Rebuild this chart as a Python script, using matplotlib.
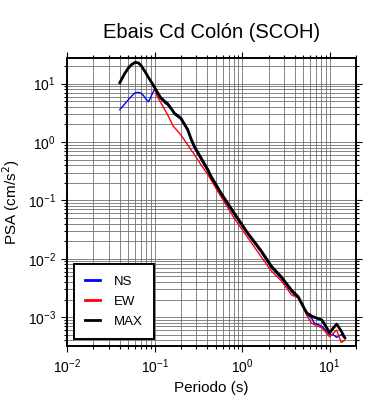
import matplotlib
matplotlib.use("Agg")
import matplotlib.pyplot as plt
from matplotlib.ticker import LogLocator, NullFormatter

plt.rcParams['font.family'] = ['Liberation Sans', 'DejaVu Sans']

# Periodos (s)
periodo = [0.04, 0.045, 0.05, 0.055, 0.06, 0.065, 0.07, 0.075, 0.08, 0.085,
           0.09, 0.095, 0.1, 0.107, 0.117, 0.134, 0.14, 0.16, 0.167, 0.199,
           0.238, 0.26, 0.283, 0.338, 0.404, 0.44, 0.574, 0.815, 1.16, 1.65,
           2.15, 2.8, 3.66, 4.37, 5.2, 5.5, 6.2, 6.6, 7.3, 8.1,
           9.0, 10.0, 11.0, 12.0, 13.5, 14.9]

# PSA (cm/s2) por componente
psa_ns = [3.6, 4.4, 5.3, 6.2, 7.0, 7.1, 6.9, 6.2, 5.4, 4.9,
          5.8, 7.0, 7.9, 6.9, 5.5, 4.5, 4.35, 3.35, 3.0, 2.45,
          1.57, 1.09, 0.8, 0.5, 0.315, 0.243, 0.125, 0.056, 0.026, 0.0128,
          0.0070, 0.0046, 0.0027, 0.0021, 0.0013, 0.0011, 0.00098, 0.0008, 0.00075, 0.0007,
          0.0006, 0.0005, 0.0005, 0.00045, 0.0005, 0.00045]

psa_ew = [10.4, 14.5, 18.5, 21.5, 23.2, 22.8, 20.5, 17.5, 15.0, 12.8,
          11.2, 9.8, 8.4, 6.05, 4.8, 3.34, 3.0, 1.98, 1.8, 1.33,
          0.9, 0.74, 0.62, 0.41, 0.28, 0.225, 0.115, 0.049, 0.023, 0.0108,
          0.0062, 0.0042, 0.0024, 0.00215, 0.0013, 0.00105, 0.00079, 0.00075, 0.0007, 0.00066,
          0.00055, 0.00046, 0.00053, 0.0006, 0.00037, 0.0004]

psa_max = [10.4, 14.5, 18.5, 21.5, 23.2, 22.8, 20.5, 17.5, 15.0, 12.8,
           11.2, 9.8, 8.6, 7.2, 5.8, 4.8, 4.6, 3.5, 3.15, 2.58,
           1.65, 1.15, 0.85, 0.54, 0.34, 0.26, 0.133, 0.06, 0.0274, 0.0137,
           0.0075, 0.0049, 0.0029, 0.00223, 0.00135, 0.00117, 0.00105, 0.001, 0.00095, 0.0009,
           0.0007, 0.00054, 0.00065, 0.00076, 0.00058, 0.00044]

fig = plt.figure(figsize=(3.9, 4.0), dpi=100)
ax = fig.add_axes([0.172, 0.135, 0.741, 0.721])

ax.plot(periodo, psa_ns, color='#0000ff', lw=1.0, label='NS')
ax.plot(periodo, psa_ew, color='#ff0000', lw=1.0, label='EW')
ax.plot(periodo, psa_max, color='black', lw=2.0, label='MAX')

ax.set_xscale('log')
ax.set_yscale('log')
ax.set_xlim(0.01, 20)
ax.set_ylim(3.2e-4, 28)

for eixo in (ax.xaxis, ax.yaxis):
    eixo.set_major_locator(LogLocator(base=10, numticks=20))
    eixo.set_minor_locator(LogLocator(base=10, subs=range(2, 10), numticks=20))
    eixo.set_minor_formatter(NullFormatter())

ax.grid(True, which='both', color='#707070', lw=0.6)
ax.set_axisbelow(True)
ax.tick_params(which='both', direction='out', top=True, right=True, labelsize=10, width=0.8)
ax.tick_params(which='major', length=4.5)
ax.tick_params(which='minor', length=2.5)
for s in ax.spines.values():
    s.set_linewidth(1.4)

ax.set_xlabel('Periodo (s)', fontsize=11)
ax.set_ylabel('PSA (cm/s$^2$)', fontsize=11)
ax.set_title('Ebais Cd Colón (SCOH)', fontsize=14.5, pad=14)

leg = ax.legend(loc='lower left', bbox_to_anchor=(0.024, 0.024), borderaxespad=0,
                fancybox=False, edgecolor='black', framealpha=1, fontsize=9.5,
                handlelength=1.1, borderpad=0.85, labelspacing=0.6, handletextpad=1.1)
leg.get_frame().set_linewidth(1.4)
for l in leg.get_lines():
    l.set_linewidth(2.0)

fig.savefig('out.png', dpi=100)
